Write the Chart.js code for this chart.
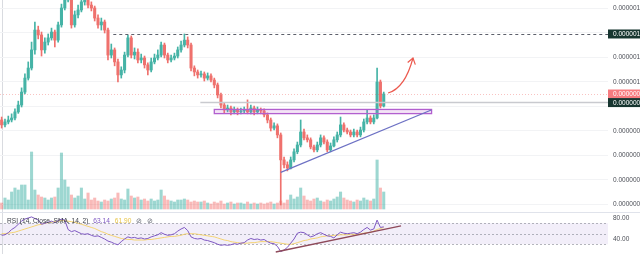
<!DOCTYPE html>
<html>
<head>
<meta charset="utf-8">
<script src="https://cdn.jsdelivr.net/npm/chart.js@4.4.1/dist/chart.umd.min.js"></script>
<style>
html, body { margin: 0; padding: 0; background: #fff; overflow: hidden; }
#wrap { position: relative; width: 640px; height: 254px; }
.pane { position: absolute; left: 0; width: 640px; }
</style>
</head>
<body>
<div id="wrap">
  <div class="pane" style="top:0;height:213px"><canvas id="main"></canvas></div>
  <div class="pane" style="top:213px;height:41px"><canvas id="rsi"></canvas></div>
</div>
<script>
// prices in units of 0.00000001
const firstOpen = 84.3;
const closes = [
  82.3, 83.5, 84.3, 85.1, 87.6, 90.4, 95.7, 101.4, 105.5, 112.9,
  121.0, 119.0, 112.9, 116.1, 117.8, 120.2, 116.9, 123.1, 130.0, 133.3,
  135.3, 123.1, 127.2, 129.2, 132.5, 133.3, 131.2, 130.0, 125.9, 123.1,
  124.3, 121.0, 110.8, 112.9, 108.0, 102.7, 104.7, 110.8, 117.8, 110.8,
  112.0, 108.8, 109.6, 106.8, 104.7, 108.0, 109.6, 110.8, 114.9, 110.8,
  108.8, 109.6, 110.4, 112.9, 114.9, 116.9, 114.9, 105.5, 103.9, 102.7,
  103.1, 101.4, 102.3, 100.6, 98.6, 94.5, 90.4, 88.4, 89.2, 87.6,
  88.4, 87.6, 88.0, 88.4, 87.6, 89.2, 87.6, 88.4, 88.0, 86.4,
  84.3, 81.0, 81.9, 78.2, 68.0, 66.0, 64.7, 68.0, 71.3, 74.1,
  79.4, 77.0, 76.2, 73.3, 72.1, 74.1, 77.0, 75.3, 72.1, 73.7,
  76.2, 78.2, 82.3, 80.2, 79.4, 78.2, 79.4, 78.2, 80.2, 83.5,
  85.1, 83.5, 85.1, 99.8, 90.0, 94.9
];
const highs = [
  85.5, 84.7, 85.9, 86.8, 88.8, 92.0, 97.4, 103.1, 108.0, 116.1,
  124.3, 122.6, 120.2, 117.8, 119.4, 121.8, 121.0, 124.3, 131.6, 135.3,
  137.3, 136.1, 128.8, 131.2, 134.1, 135.7, 134.5, 132.5, 130.8, 127.2,
  125.9, 125.1, 121.8, 115.3, 113.7, 109.2, 106.0, 112.0, 119.0, 118.6,
  113.7, 113.3, 111.2, 110.4, 107.6, 109.6, 111.2, 112.9, 116.1, 115.7,
  111.6, 110.8, 111.6, 114.1, 116.5, 119.4, 118.2, 115.7, 106.4, 104.7,
  104.3, 103.9, 103.5, 103.1, 101.4, 99.4, 95.3, 91.2, 90.4, 90.0,
  89.6, 89.2, 89.2, 89.6, 92.5, 90.4, 90.0, 89.6, 89.2, 88.8,
  87.2, 85.1, 83.1, 82.7, 79.0, 69.2, 67.2, 69.2, 72.5, 75.3,
  84.3, 80.6, 78.2, 77.0, 74.1, 75.3, 78.2, 77.8, 76.2, 74.9,
  77.4, 79.4, 85.5, 83.1, 81.0, 80.2, 80.6, 80.2, 81.4, 84.7,
  88.4, 86.0, 86.4, 105.5, 100.6, 95.7
];
const lows = [
  81.0, 81.5, 82.7, 83.5, 84.3, 87.0, 89.6, 94.9, 100.6, 104.7,
  111.2, 117.4, 110.4, 111.6, 114.9, 116.9, 114.1, 116.1, 122.2, 129.2,
  132.5, 121.8, 122.2, 126.0, 128.4, 131.2, 130.0, 128.8, 124.7, 121.8,
  121.0, 119.8, 108.8, 109.6, 106.4, 99.8, 101.4, 103.5, 110.0, 109.6,
  109.2, 107.6, 107.6, 105.5, 102.7, 103.9, 107.2, 108.8, 110.0, 109.6,
  107.6, 108.0, 108.8, 109.6, 112.0, 114.1, 113.7, 104.3, 102.3, 101.4,
  101.8, 100.2, 100.6, 99.8, 97.4, 93.3, 89.2, 87.2, 87.6, 86.4,
  86.8, 86.4, 86.8, 87.2, 86.8, 86.8, 86.4, 86.8, 86.8, 85.5,
  83.1, 79.8, 80.2, 77.0, 49.6, 64.7, 63.5, 64.3, 67.2, 70.5,
  73.3, 76.2, 75.3, 72.5, 71.3, 71.3, 73.3, 74.5, 71.3, 71.3,
  73.3, 75.3, 77.4, 79.4, 78.6, 77.4, 77.4, 77.4, 77.4, 79.4,
  82.7, 82.7, 82.7, 84.7, 89.2, 89.6
];
const volumes = [
  6, 11, 9, 17, 21, 19, 24, 24, 9, 57,
  19, 14, 12, 11, 9, 11, 12, 21, 56, 29,
  22, 14, 11, 13, 21, 10, 16, 9, 11, 8,
  7, 9, 8, 10, 11, 16, 10, 9, 20, 13,
  11, 12, 9, 10, 8, 10, 8, 9, 19, 13,
  9, 8, 7, 9, 9, 10, 9, 7, 8, 7,
  7, 8, 6, 5, 7, 6, 8, 5, 6, 7,
  5, 6, 6, 5, 7, 5, 6, 5, 6, 5,
  6, 7, 5, 6, 8, 6, 9, 14, 10, 12,
  21, 13, 9, 8, 10, 11, 8, 7, 9, 8,
  10, 12, 17, 11, 9, 8, 7, 9, 8, 11,
  9, 8, 10, 49, 21, 17
];
const rsiValues = [
  47, 48, 52, 58, 62, 68, 74, 78, 80, 82,
  79, 76, 68, 70, 72, 74, 71, 75, 78, 76,
  58, 54, 56, 53, 50, 49, 50, 47, 45, 46,
  43, 40, 36, 34, 31, 29, 35, 40, 44, 42,
  43, 41, 42, 40, 41, 44, 46, 48, 52, 49,
  47, 48, 50, 55, 59, 62, 56, 44, 41, 40,
  41, 38, 37, 35, 33, 30, 28, 29, 28, 29,
  31, 30, 32, 33, 38, 41, 39, 40, 38, 39,
  35, 32, 31, 26, 16, 19, 24, 32, 40, 51,
  53, 52, 48, 44, 46, 50, 52, 49, 46, 45,
  42, 48, 53, 51, 50, 51, 52, 50, 53, 58,
  62, 57, 59, 76, 62, 63.14
];
const rsiMa = [
  50, 50, 51, 52, 53, 55, 57, 59, 61, 63,
  65, 67, 68, 70, 71, 72, 73, 74, 75, 75,
  74, 73, 72, 70, 68, 66, 64, 62, 60, 57,
  54, 52, 49, 47, 45, 43, 41, 40, 39, 39,
  38, 38, 38, 38, 39, 39, 40, 41, 42, 43,
  44, 45, 45, 46, 47, 49, 50, 50, 50, 49,
  48, 47, 46, 45, 44, 42, 40, 38, 37, 35,
  34, 33, 32, 32, 32, 33, 33, 34, 35, 35,
  35, 35, 34, 33, 32, 31, 30, 30, 31, 33,
  35, 37, 38, 40, 41, 42, 44, 45, 46, 46,
  47, 47, 48, 48, 48, 49, 49, 49, 50, 51,
  52, 53, 55, 58, 60, 61.9
];
const priceTicks = [130, 120, 110, 100, 90, 80, 70, 60, 50];
const priceTickLabels = ['0.0000013', '', '0.0000011', '0.0000010', '', '0.0000008', '0.0000007', '0.0000006', '0.0000005'];
const rsiTicks = [80, 40];
const rsiTickLabels = ['80.00', '40.00'];

// drawings: [index, price]
const resistanceLine = [[33.6, 119.4], [200, 119.4]];
const pivotLine = [[59.8, 91.4], [200, 91.4]];
const zoneBox = [[64.0, 88.6], [129.4, 86.9]];
const supportLine = [[84.0, 62.9], [129.3, 88.4]];
const arrowPath = [[116.3, 95.3], [121.4, 97.3], [123.8, 109.6]];
const rsiTrend = [[82.5, 15.2], [120.2, 64.8]];
const lastPrice = 94.9;
const axisTags = [
  { value: 119.4, text: '0.00000119', bg: '#173630' },
  { value: 94.9, text: '0.00000095', bg: '#f77c80' },
  { value: 91.4, text: '0.00000091', bg: '#173630' }
];

const SLOTS = 183;
const labels = Array.from({ length: SLOTS }, (_, i) => 'b' + i);
const opens = closes.map((c, i) => i === 0 ? firstOpen : closes[i - 1]);
const isUp = closes.map((c, i) => c >= opens[i]);
const UP = '#45b3a6', DOWN = '#ef716d';
const FONT = '6.5px "Liberation Sans", Arial, sans-serif';

function drawAxisLabels(chart, values, texts) {
  const { ctx, chartArea: a, scales: { y } } = chart;
  ctx.save();
  ctx.font = FONT;
  ctx.fillStyle = '#4c4f57';
  ctx.textBaseline = 'middle';
  values.forEach((v, i) => {
    if (texts[i]) ctx.fillText(texts[i], a.right + 5, y.getPixelForValue(v) + 0.5);
  });
  ctx.restore();
}

function leftBorder(chart) {
  const { ctx } = chart;
  ctx.save();
  ctx.strokeStyle = '#d9dbe0';
  ctx.lineWidth = 1;
  ctx.beginPath();
  ctx.moveTo(2.5, 0); ctx.lineTo(2.5, chart.height);
  ctx.stroke();
  ctx.restore();
}

const mainDraw = {
  id: 'mainDraw',
  beforeDraw(chart) { leftBorder(chart); },
  afterDatasetsDraw(chart) {
    const { ctx, chartArea: a, scales: { x, y } } = chart;
    const px = v => x.getPixelForValue(0) + v * (x.getPixelForValue(1) - x.getPixelForValue(0));
    const py = v => y.getPixelForValue(v);
    ctx.save();
    ctx.beginPath();
    ctx.rect(a.left, a.top, a.right - a.left, a.bottom - a.top);
    ctx.clip();
    // last price line
    ctx.strokeStyle = 'rgba(239,83,80,0.35)';
    ctx.setLineDash([1, 2]);
    ctx.lineWidth = 1;
    ctx.beginPath();
    ctx.moveTo(a.left, Math.round(py(lastPrice)) + 0.5);
    ctx.lineTo(a.right, Math.round(py(lastPrice)) + 0.5);
    ctx.stroke();
    // resistance dashed
    ctx.strokeStyle = '#5d606b';
    ctx.setLineDash([3, 3]);
    ctx.beginPath();
    ctx.moveTo(px(resistanceLine[0][0]), Math.round(py(resistanceLine[0][1])) + 0.5);
    ctx.lineTo(px(resistanceLine[1][0]), Math.round(py(resistanceLine[1][1])) + 0.5);
    ctx.stroke();
    ctx.setLineDash([]);
    // pivot line
    ctx.strokeStyle = '#c9cacf';
    ctx.lineWidth = 1.5;
    ctx.beginPath();
    ctx.moveTo(px(pivotLine[0][0]), py(pivotLine[0][1]));
    ctx.lineTo(px(pivotLine[1][0]), py(pivotLine[1][1]));
    ctx.stroke();
    // zone
    const zx = px(zoneBox[0][0]), zy = py(zoneBox[0][1]);
    const zw = px(zoneBox[1][0]) - zx, zh = py(zoneBox[1][1]) - zy;
    ctx.fillStyle = 'rgba(186,104,200,0.18)';
    ctx.fillRect(zx, zy, zw, zh);
    ctx.strokeStyle = '#b25fcf';
    ctx.lineWidth = 1.3;
    ctx.strokeRect(zx, zy, zw, zh);
    // support trend
    ctx.strokeStyle = '#6d71c4';
    ctx.lineWidth = 1.2;
    ctx.beginPath();
    ctx.moveTo(px(supportLine[0][0]), py(supportLine[0][1]));
    ctx.lineTo(px(supportLine[1][0]), py(supportLine[1][1]));
    ctx.stroke();
    // arrow
    const [s, c, e] = arrowPath.map(p => [px(p[0]), py(p[1])]);
    ctx.strokeStyle = '#ec5a4f';
    ctx.lineWidth = 1.2;
    ctx.beginPath();
    ctx.moveTo(s[0], s[1]);
    ctx.quadraticCurveTo(c[0], c[1], e[0], e[1]);
    ctx.stroke();
    const ang = Math.atan2(e[1] - c[1], e[0] - c[0]);
    ctx.beginPath();
    ctx.moveTo(e[0] - 7 * Math.cos(ang - 0.6), e[1] - 7 * Math.sin(ang - 0.6));
    ctx.lineTo(e[0], e[1]);
    ctx.lineTo(e[0] - 7 * Math.cos(ang + 0.6), e[1] - 7 * Math.sin(ang + 0.6));
    ctx.stroke();
    ctx.restore();
  },
  afterDraw(chart) {
    const { ctx, chartArea: a, scales: { y } } = chart;
    drawAxisLabels(chart, priceTicks, priceTickLabels);
    ctx.save();
    // pane separator
    ctx.strokeStyle = '#e0e3eb';
    ctx.lineWidth = 1;
    ctx.beginPath();
    ctx.moveTo(0, chart.height - 0.5); ctx.lineTo(chart.width, chart.height - 0.5);
    ctx.stroke();
    // axis tags
    ctx.font = FONT;
    ctx.textBaseline = 'middle';
    axisTags.forEach(t => {
      const ty = y.getPixelForValue(t.value);
      ctx.fillStyle = t.bg;
      ctx.fillRect(a.right, ty - 4.5, chart.width - a.right, 9);
      ctx.fillStyle = '#ffffff';
      ctx.fillText(t.text, a.right + 5, ty + 0.5);
    });
    ctx.restore();
  }
};

new Chart(document.getElementById('main'), {
  type: 'bar',
  data: {
    labels: labels,
    datasets: [
      {
        label: 'Volume',
        yAxisID: 'yv',
        data: volumes,
        backgroundColor: isUp.map(u => u ? 'rgba(38,166,154,0.45)' : 'rgba(239,83,80,0.4)'),
        barThickness: 2.4,
        grouped: false,
        order: 3
      },
      {
        label: 'Wick',
        data: lows.map((l, i) => [l, highs[i]]),
        backgroundColor: isUp.map(u => u ? UP : DOWN),
        barThickness: 1,
        grouped: false,
        order: 2
      },
      {
        label: 'Body',
        data: opens.map((o, i) => [o, closes[i]]),
        backgroundColor: isUp.map(u => u ? UP : DOWN),
        barThickness: 2.4,
        minBarLength: 1,
        grouped: false,
        order: 1
      }
    ]
  },
  options: {
    responsive: true,
    maintainAspectRatio: false,
    animation: false,
    layout: { padding: 0 },
    plugins: { legend: { display: false }, tooltip: { enabled: false } },
    scales: {
      x: { display: false, offset: true },
      y: {
        position: 'right',
        min: 46.33,
        max: 133.27,
        afterBuildTicks: s => { s.ticks = priceTicks.map(v => ({ value: v })); },
        afterFit: s => { s.width = 32; },
        ticks: { display: false },
        grid: { color: '#f2f3f5', drawTicks: false },
        border: { display: false }
      },
      yv: { display: false, min: -4, max: 209 }
    }
  },
  plugins: [mainDraw]
});

const rsiDraw = {
  id: 'rsiDraw',
  beforeDatasetsDraw(chart) {
    const { ctx, chartArea: a, scales: { y } } = chart;
    ctx.save();
    ctx.fillStyle = 'rgba(126,87,194,0.1)';
    ctx.fillRect(a.left, y.getPixelForValue(70), a.right - a.left, y.getPixelForValue(30) - y.getPixelForValue(70));
    ctx.strokeStyle = 'rgba(120,123,134,0.55)';
    ctx.setLineDash([2, 2]);
    ctx.lineWidth = 1;
    [70, 50, 30].forEach(v => {
      const yy = Math.round(y.getPixelForValue(v)) + 0.5;
      ctx.beginPath(); ctx.moveTo(a.left, yy); ctx.lineTo(a.right, yy); ctx.stroke();
    });
    ctx.restore();
    leftBorder(chart);
  },
  afterDatasetsDraw(chart) {
    const { ctx, scales: { x, y } } = chart;
    const px = v => x.getPixelForValue(0) + v * (x.getPixelForValue(1) - x.getPixelForValue(0));
    ctx.save();
    ctx.strokeStyle = '#8e4a5a';
    ctx.lineWidth = 1.3;
    ctx.beginPath();
    ctx.moveTo(px(rsiTrend[0][0]), y.getPixelForValue(rsiTrend[0][1]));
    ctx.lineTo(px(rsiTrend[1][0]), y.getPixelForValue(rsiTrend[1][1]));
    ctx.stroke();
    // legend
    ctx.font = '6.6px "Liberation Sans", Arial, sans-serif';
    ctx.textBaseline = 'middle';
    let tx = 7;
    const parts = [
      ['RSI (14, Close, SMA, 14, 2)', '#3b3e47'],
      ['63.14', '#7e57c2'],
      ['61.90', '#e8c547'],
      ['\u2298', '#6a6d78'],
      ['\u2298', '#6a6d78']
    ];
    parts.forEach(([t, col]) => {
      ctx.fillStyle = col;
      ctx.fillText(t, tx, 8);
      tx += ctx.measureText(t).width + 5;
    });
    ctx.restore();
  },
  afterDraw(chart) { drawAxisLabels(chart, rsiTicks, rsiTickLabels); }
};

new Chart(document.getElementById('rsi'), {
  type: 'line',
  data: {
    labels: labels,
    datasets: [
      { label: 'RSI', data: rsiValues, borderColor: '#7e57c2', borderWidth: 1, pointRadius: 0, tension: 0 },
      { label: 'MA', data: rsiMa, borderColor: 'rgba(245,205,80,0.8)', borderWidth: 1, pointRadius: 0, tension: 0.3 }
    ]
  },
  options: {
    responsive: true,
    maintainAspectRatio: false,
    animation: false,
    layout: { padding: 0 },
    plugins: { legend: { display: false }, tooltip: { enabled: false } },
    scales: {
      x: { display: false, offset: true },
      y: {
        position: 'right',
        min: 11.4,
        max: 89.5,
        afterBuildTicks: s => { s.ticks = rsiTicks.map(v => ({ value: v })); },
        afterFit: s => { s.width = 32; },
        ticks: { display: false },
        grid: { display: false, drawTicks: false },
        border: { display: false }
      }
    }
  },
  plugins: [rsiDraw]
});
</script>
</body>
</html>
